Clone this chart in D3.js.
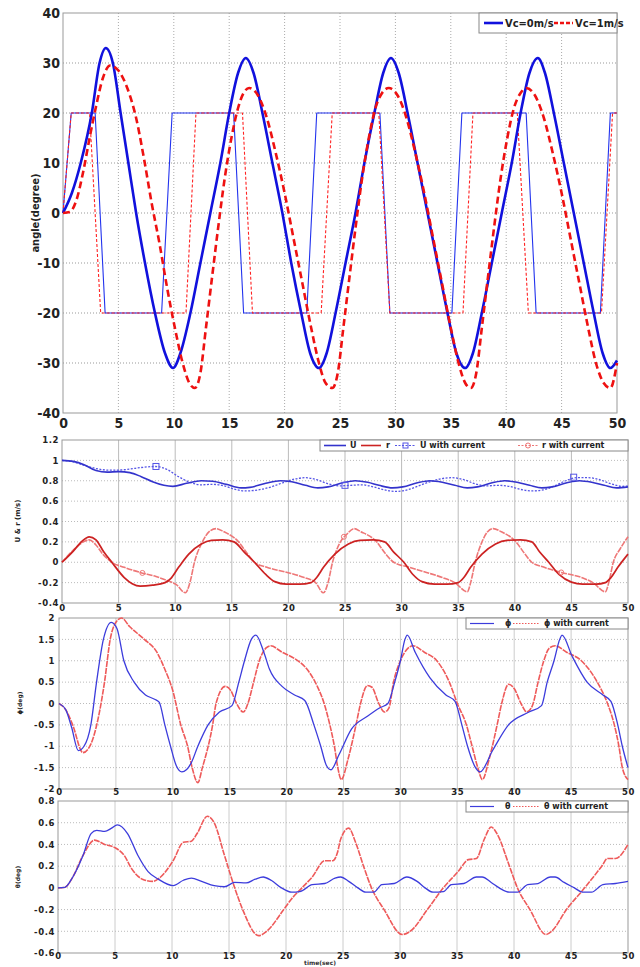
<!DOCTYPE html>
<html>
<head>
<meta charset="utf-8">
<script src="https://cdn.jsdelivr.net/npm/d3@7"></script>
<style>
body { margin: 0; background: #fff; }
svg { display: block; }
</style>
</head>
<body>
<div id="chart"></div>
<script>
// ---------- data ----------
const xTicks = [0, 5, 10, 15, 20, 25, 30, 35, 40, 45, 50]

// panel 1 : heading angle (deg) and rudder
const angleTicks = [40, 30, 20, 10, 0, -10, -20, -30, -40]
const headingVc0 = [[0,0],[0.8,4],[1.6,10],[2.6,20],[3.3,30],[3.86,33],[4.5,30],[5.2,20],[5.9,10],[6.6,0],[7.4,-10],[8.3,-20],[9.2,-28],[9.93,-31],[10.6,-28],[11.5,-20],[12.4,-10],[13.3,0],[14.2,10],[15.0,20],[15.8,28],[16.5,31],[17.2,28],[18.0,20],[18.9,10],[19.8,0],[20.6,-10],[21.5,-20],[22.3,-28],[23.1,-31],[23.8,-28],[24.6,-20],[25.5,-10],[26.4,0],[27.2,10],[28.1,20],[28.9,28],[29.6,31],[30.3,28],[31.1,20],[32.0,10],[32.9,0],[33.8,-10],[34.7,-20],[35.5,-28],[36.3,-31],[37.0,-28],[37.8,-20],[38.7,-10],[39.6,0],[40.5,10],[41.3,20],[42.1,28],[42.85,31],[43.5,28],[44.3,20],[45.2,10],[46.1,0],[47.0,-10],[47.9,-20],[48.7,-28],[49.4,-31],[50,-29.5]]
const headingVc1 = [[0,0],[0.6,0.2],[1.2,2.5],[1.8,8],[2.4,15],[3.0,21.5],[3.6,27],[4.26,29.5],[5.0,28.5],[5.8,25],[6.6,19],[7.3,11],[8.0,2],[8.7,-6],[9.4,-15],[10.1,-23],[10.8,-30],[11.4,-34],[11.9,-35],[12.4,-32],[12.9,-23],[13.5,-12],[14.0,-3],[14.6,7],[15.2,15],[15.8,21],[16.3,24],[16.8,25],[17.6,23.5],[18.4,19],[19.2,12],[20.0,4],[20.8,-5],[21.6,-14],[22.4,-23],[23.1,-30],[23.7,-34],[24.3,-35],[24.8,-32],[25.3,-23],[25.9,-12],[26.4,-3],[27.0,7],[27.6,15],[28.2,21],[28.8,24],[29.4,25],[30.2,23.5],[31.0,19],[31.8,12],[32.6,4],[33.4,-5],[34.2,-14],[35.0,-23],[35.7,-30],[36.3,-34],[36.8,-35],[37.3,-32],[37.8,-23],[38.4,-12],[38.9,-3],[39.5,7],[40.1,15],[40.7,21],[41.3,24],[41.8,25],[42.6,23.5],[43.4,19],[44.2,12],[45.0,4],[45.8,-5],[46.6,-14],[47.4,-23],[48.1,-30],[48.8,-34],[49.4,-35],[50,-30]]
const rudderVc0 = [[0,0],[0.74,20],[2.9,20],[3.8,-20],[8.9,-20],[9.85,20],[15.4,20],[16.3,-20],[22.0,-20],[22.9,20],[28.6,20],[29.5,-20],[35.1,-20],[36.0,20],[41.8,20],[42.7,-20],[48.5,-20],[49.4,20],[50,20]]
const rudderVc1 = [[0,0],[0.74,20],[2.4,20],[3.4,-20],[11.1,-20],[12.0,20],[16.2,20],[17.1,-20],[23.3,-20],[24.3,20],[28.5,20],[29.5,-20],[36.1,-20],[37.0,20],[41.0,20],[42.0,-20],[48.6,-20],[49.6,20],[50,20]]

// panel 2 : surge speed U and yaw rate r
const speedTicks = [1.2, 1, 0.8, 0.6, 0.4, 0.2, 0, -0.2, -0.4]
const speedU = [[0,1],[1,0.99],[2,0.955],[3,0.9],[4,0.885],[5,0.89],[6,0.88],[7,0.84],[8,0.79],[9,0.755],[9.8,0.745],[11,0.775],[12.3,0.8],[13.3,0.795],[14.5,0.765],[15.8,0.73],[16.6,0.735],[18,0.775],[19.3,0.8],[20.3,0.79],[21.5,0.755],[22.6,0.73],[23.5,0.74],[24.8,0.78],[25.9,0.8],[27,0.785],[28,0.755],[29.2,0.73],[30.1,0.74],[31.4,0.78],[32.5,0.8],[33.6,0.785],[34.7,0.755],[35.8,0.73],[36.7,0.74],[38,0.78],[39.1,0.8],[40.2,0.785],[41.3,0.755],[42.4,0.73],[43.3,0.74],[44.6,0.78],[45.7,0.8],[46.8,0.785],[47.9,0.755],[49,0.73],[50,0.74]]
const speedUCur = [[0,1],[1,0.985],[2,0.95],[3,0.92],[4,0.905],[5,0.905],[6,0.915],[7,0.93],[8.3,0.94],[9.3,0.91],[10.3,0.84],[11.3,0.785],[12.3,0.76],[13.3,0.765],[14.3,0.75],[15.3,0.715],[16.3,0.7],[17.3,0.71],[18.5,0.74],[19.5,0.78],[20.5,0.815],[21.5,0.83],[22.5,0.81],[23.5,0.77],[24.5,0.75],[25.5,0.755],[26.5,0.76],[27.5,0.74],[28.5,0.71],[29.5,0.695],[30.5,0.71],[31.5,0.75],[32.5,0.79],[33.5,0.82],[34.5,0.83],[35.5,0.81],[36.5,0.77],[37.5,0.75],[38.5,0.755],[39.5,0.745],[40.5,0.715],[41.5,0.7],[42.5,0.71],[43.5,0.75],[44.5,0.8],[45.5,0.83],[46.5,0.83],[47.5,0.81],[48.5,0.77],[49.5,0.745],[50,0.75]]
const speedUCurMarks = [[8.3,0.94],[25,0.755],[45.2,0.835]]
const yawR = [[0,0],[1,0.11],[1.8,0.21],[2.4,0.25],[3,0.22],[3.7,0.1],[4.4,0],[5.5,-0.15],[6.2,-0.21],[6.9,-0.235],[8,-0.225],[9.1,-0.2],[9.6,-0.16],[10.3,-0.05],[11.2,0.08],[12.3,0.18],[13.2,0.215],[14.2,0.22],[15.2,0.2],[16.1,0.1],[17,0],[18,-0.12],[18.8,-0.19],[19.8,-0.215],[21,-0.215],[22,-0.2],[22.5,-0.15],[23.1,-0.05],[24.1,0.08],[25.3,0.18],[26.3,0.215],[27.5,0.22],[28.5,0.2],[29.3,0.1],[30.2,0],[31,-0.12],[31.8,-0.19],[32.9,-0.215],[34,-0.215],[35,-0.2],[35.5,-0.15],[36.1,-0.05],[37.1,0.08],[38.3,0.18],[39.3,0.215],[40.5,0.22],[41.5,0.2],[42.2,0.1],[43,0],[43.9,-0.12],[45,-0.195],[46,-0.215],[47.2,-0.215],[48,-0.2],[48.5,-0.15],[49.1,-0.05],[50,0.08]]
const yawRCur = [[0,0],[1,0.12],[1.9,0.2],[2.4,0.22],[3,0.17],[3.6,0.08],[4.4,0],[5.5,-0.05],[6.9,-0.1],[8.3,-0.14],[9.3,-0.18],[10.1,-0.22],[10.9,-0.3],[11.3,-0.2],[11.7,0],[12.4,0.2],[13,0.3],[13.6,0.33],[14.3,0.3],[15.6,0.2],[16.4,0.08],[17,0],[18.1,-0.05],[19.9,-0.1],[21.4,-0.15],[22.4,-0.2],[23.1,-0.3],[23.5,-0.2],[23.9,0],[24.5,0.18],[25.2,0.28],[25.8,0.33],[26.4,0.3],[27.8,0.2],[28.6,0.08],[29.3,0],[30.7,-0.05],[32.2,-0.1],[33.6,-0.15],[34.7,-0.2],[35.8,-0.29],[36.1,-0.2],[36.5,0],[37.1,0.2],[37.6,0.3],[38.1,0.33],[38.8,0.3],[40.1,0.2],[40.9,0.08],[41.5,0],[42.6,-0.05],[44.1,-0.1],[45.9,-0.15],[46.9,-0.2],[48,-0.29],[48.3,-0.2],[48.7,0],[49.3,0.13],[50,0.25]]
const yawRCurMarks = [[7.1,-0.105],[24.9,0.25],[44.1,-0.1]]

// panel 3 : roll
const rollTicks = [2, 1.5, 1, 0.5, 0, -0.5, -1, -1.5, -2]
const roll = [[0,0],[0.6,-0.15],[1.1,-0.55],[1.7,-1.1],[2.2,-1.0],[2.8,-0.5],[3.3,0.5],[3.9,1.5],[4.6,1.9],[5.1,1.75],[5.7,1.0],[6.6,0.5],[7.6,0.2],[8.4,0.1],[8.8,0.03],[9.3,-0.5],[9.8,-1.0],[10.3,-1.45],[10.8,-1.6],[11.6,-1.4],[12.2,-1.0],[13.1,-0.5],[14.1,-0.2],[15.2,-0.05],[15.8,0.5],[16.3,1.0],[16.9,1.5],[17.3,1.6],[18,1.2],[18.5,0.8],[19.6,0.4],[20.7,0.2],[21.6,0.07],[22.4,-0.5],[23,-1.0],[23.5,-1.45],[23.9,-1.55],[24.6,-1.2],[25.7,-0.6],[27.1,-0.3],[28.2,-0.1],[28.9,0],[29.5,0.5],[30,1.0],[30.4,1.5],[30.6,1.6],[31.3,1.2],[32.6,0.6],[34,0.2],[34.8,0.05],[35.4,-0.5],[35.9,-1.0],[36.6,-1.5],[37,-1.6],[38.1,-1.1],[39.5,-0.5],[41.3,-0.2],[42.4,-0.05],[42.9,0.5],[43.5,1.0],[44,1.5],[44.2,1.6],[45.1,1.1],[46.4,0.5],[47.8,0.2],[48.5,0.05],[49.1,-0.5],[49.5,-1.0],[50,-1.5]]
const rollCur = [[0,0],[0.6,-0.15],[1.2,-0.5],[2.1,-1.15],[2.8,-0.95],[3.4,-0.4],[4.0,0.5],[4.5,1.5],[5,1.9],[5.5,2.0],[6.2,1.8],[7.5,1.5],[8.6,1.2],[9.3,0.8],[10,0.3],[10.7,-0.5],[11.3,-1.0],[11.7,-1.5],[12.2,-1.85],[12.6,-1.5],[13.5,-0.5],[13.8,0],[14.6,0.4],[15.1,0.3],[15.6,0],[16.2,-0.2],[16.6,0],[17.1,0.5],[17.6,1.0],[18.2,1.3],[18.6,1.35],[19.6,1.2],[20.7,1.05],[21.8,0.8],[22.7,0.4],[23.3,0],[23.8,-0.5],[24.2,-1.0],[24.5,-1.5],[24.8,-1.78],[25.4,-1.3],[26.1,-0.5],[26.5,0],[27.1,0.42],[27.5,0.38],[28.1,0],[28.6,-0.2],[29,-0.1],[29.4,0.5],[30,1.0],[30.7,1.3],[31.1,1.35],[32.1,1.2],[33.2,1.0],[34.3,0.5],[35,0],[35.8,-0.5],[36.3,-1.0],[36.8,-1.5],[37.2,-1.78],[37.8,-1.3],[38.5,-0.5],[38.9,0],[39.5,0.45],[40,0.35],[40.6,0],[41.1,-0.2],[41.6,-0.05],[42.1,0.5],[42.6,1.0],[43.1,1.3],[43.6,1.35],[44.6,1.2],[45.9,1.0],[47.3,0.5],[48.2,0],[48.8,-0.5],[49.2,-1.0],[49.5,-1.5],[50,-1.78]]

// panel 4 : pitch
const pitchTicks = [0.8, 0.6, 0.4, 0.2, 0, -0.2, -0.4, -0.6]
const pitch = [[0,0],[0.6,0.005],[1.3,0.1],[2.2,0.3],[2.9,0.5],[3.4,0.53],[4.1,0.52],[4.7,0.55],[5.2,0.58],[6.1,0.5],[7,0.3],[7.9,0.15],[8.8,0.08],[10.1,0.02],[11,0.07],[11.7,0.09],[12.6,0.06],[13.7,0.02],[14.6,0.01],[15.5,0.05],[16.5,0.045],[17.3,0.08],[18,0.1],[18.7,0.07],[19.6,0],[20.5,-0.04],[21.2,-0.035],[22.3,0.03],[23.4,0.04],[24.3,0.09],[24.8,0.1],[25.5,0.06],[26.3,0],[27,-0.04],[27.7,-0.04],[28.4,0.03],[29.5,0.04],[30.6,0.1],[31.5,0.06],[32.2,0],[32.9,-0.04],[33.8,-0.035],[34.5,0.03],[35.6,0.04],[36.7,0.1],[37.2,0.1],[38,0.05],[38.7,0],[39.6,-0.04],[40.3,-0.04],[41.2,0.03],[42.1,0.04],[43.2,0.1],[43.6,0.1],[44.4,0.05],[45.3,0],[46,-0.04],[46.8,-0.04],[47.8,0.03],[48.9,0.04],[50,0.06]]
const pitchCur = [[0,0],[0.6,0.005],[1.3,0.1],[2.2,0.3],[3.2,0.44],[4.1,0.4],[5,0.37],[5.8,0.3],[6.5,0.17],[7.4,0.08],[8.3,0.06],[9,0.1],[10.1,0.25],[11,0.42],[11.7,0.43],[12.2,0.5],[13.1,0.66],[13.7,0.6],[14.6,0.3],[15.5,0],[16.2,-0.2],[17.6,-0.44],[18.3,-0.4],[19.8,-0.2],[20.5,-0.1],[21.4,0],[22.3,0.1],[23.4,0.25],[24.1,0.25],[24.5,0.32],[24.8,0.45],[25.5,0.55],[26.1,0.42],[26.8,0.2],[27.5,0],[28.6,-0.2],[30.2,-0.43],[30.9,-0.4],[32.4,-0.2],[33.8,0],[35.1,0.15],[36,0.26],[36.7,0.27],[37.4,0.45],[38,0.56],[38.5,0.5],[39.6,0.2],[40.3,0],[41.4,-0.2],[42.8,-0.43],[43.3,-0.4],[44.6,-0.2],[46.2,0],[47.7,0.2],[48.2,0.27],[48.9,0.27],[50,0.4]]

// ---------- drawing ----------
const width = 640, height = 967
const svg = d3.select("#chart").append("svg")
  .attr("width", width).attr("height", height)

const narrow = "'Liberation Sans Narrow','DejaVu Sans Condensed',sans-serif"
const wide = "'DejaVu Sans',sans-serif"

function panel(box, yDomain, yTicks, opt) {
  const x = d3.scaleLinear().domain([0, 50]).range([box.l, box.r])
  const y = d3.scaleLinear().domain(yDomain).range([box.b, box.t])
  const g = svg.append("g")

  // grid
  g.append("g").selectAll("line").data(xTicks.slice(1, -1)).join("line")
    .attr("x1", d => x(d)).attr("x2", d => x(d))
    .attr("y1", box.t).attr("y2", box.b)
    .attr("stroke", opt.vGrid).attr("stroke-width", 1)
    .attr("stroke-dasharray", opt.vDash)
  g.append("g").selectAll("line").data(yTicks.filter(d => d != yDomain[0] && d != yDomain[1])).join("line")
    .attr("x1", box.l).attr("x2", box.r)
    .attr("y1", d => y(d)).attr("y2", d => y(d))
    .attr("stroke", opt.hGrid).attr("stroke-width", 1)
    .attr("stroke-dasharray", "1,2")

  g.append("rect")
    .attr("x", box.l).attr("y", box.t)
    .attr("width", box.r - box.l).attr("height", box.b - box.t)
    .attr("fill", "none").attr("stroke", "#999").attr("stroke-width", 1)

  const xa = g.append("g")
    .attr("transform", "translate(0," + box.b + ")")
    .call(d3.axisBottom(x).tickValues(xTicks).tickSize(0).tickPadding(opt.xPad).tickFormat(d3.format("d")))
  const ya = g.append("g")
    .attr("transform", "translate(" + box.l + ",0)")
    .call(d3.axisLeft(y).tickValues(yTicks).tickSize(0).tickPadding(opt.yPad).tickFormat(d => String(+d.toFixed(2))))
  ;[xa, ya].forEach(a => {
    a.select(".domain").remove()
    a.selectAll("text")
      .attr("font-family", opt.font).attr("font-weight", "bold")
      .attr("font-size", opt.fontSize).attr("fill", "#222")
      .attr("letter-spacing", opt.spacing || 0)
  })
  return { x, y, g }
}

function curve(p, data, color, w, dash, shape) {
  const line = d3.line().x(d => p.x(d[0])).y(d => p.y(d[1]))
    .curve(shape || d3.curveMonotoneX)
  p.g.append("path").datum(data)
    .attr("d", line)
    .attr("fill", "none").attr("stroke", color)
    .attr("stroke-width", w).attr("stroke-dasharray", dash || null)
    .attr("stroke-linejoin", "round")
}

function ylabel(text, x, y, size, font) {
  svg.append("text").attr("transform", "translate(" + x + "," + y + ") rotate(-90)")
    .attr("text-anchor", "middle").attr("dominant-baseline", "middle")
    .attr("font-family", font).attr("font-weight", "bold").attr("font-size", size)
    .attr("fill", "#222").text(text)
}

function legend(box, y0, y1, items, size, font) {
  svg.append("rect").attr("x", box.x0).attr("y", y0)
    .attr("width", box.x1 - box.x0).attr("height", y1 - y0)
    .attr("fill", "#fff").attr("stroke", "#888").attr("stroke-width", 1)
  const cy = (y0 + y1) / 2
  items.forEach(it => {
    svg.append("line").attr("x1", it.l0).attr("x2", it.l1)
      .attr("y1", cy).attr("y2", cy)
      .attr("stroke", it.color).attr("stroke-width", it.w)
      .attr("stroke-dasharray", it.dash || null)
    if (it.mark == "square") {
      svg.append("rect").attr("x", (it.l0 + it.l1) / 2 - 2.5).attr("y", cy - 2.5)
        .attr("width", 5).attr("height", 5).attr("fill", "none").attr("stroke", it.color)
    }
    if (it.mark == "circle") {
      svg.append("circle").attr("cx", (it.l0 + it.l1) / 2).attr("cy", cy).attr("r", 2.5)
        .attr("fill", "none").attr("stroke", it.color)
    }
    svg.append("text").attr("x", it.tx).attr("y", cy)
      .attr("dominant-baseline", "central")
      .attr("font-family", font).attr("font-weight", "bold").attr("font-size", size)
      .attr("fill", "#222").text(it.text)
  })
}

// ---- panel 1
const p1 = panel({ l: 63, r: 617, t: 13, b: 413 }, [-40, 40], angleTicks,
  { vGrid: "#aaa", vDash: "1,2", hGrid: "#999", font: narrow, fontSize: 14, xPad: 5, yPad: 3 })
curve(p1, rudderVc0, "#2233ee", 1.1, null, d3.curveLinear)
curve(p1, rudderVc1, "#ff2222", 1.1, "3,2", d3.curveLinear)
curve(p1, headingVc0, "#1111dd", 2.6)
curve(p1, headingVc1, "#ee1111", 2.6, "7,4")
ylabel("angle(degree)", 36, 213, 11, narrow)
legend({ x0: 479, x1: 617 }, 13, 33, [
  { l0: 484, l1: 503, tx: 505, text: "Vc=0m/s", color: "#1111dd", w: 2.6 },
  { l0: 554, l1: 573, tx: 575, text: "Vc=1m/s", color: "#ee1111", w: 2.6, dash: "4,2" }
], 11, narrow)

// ---- panel 2
const p2 = panel({ l: 62, r: 628, t: 440, b: 603 }, [-0.4, 1.2], speedTicks,
  { vGrid: "#bbb", vDash: null, hGrid: "#bbb", font: wide, fontSize: 8.5, xPad: 2, yPad: 3, spacing: 0.6 })
curve(p2, speedUCur, "#5555e6", 1.3, "2,1.5")
curve(p2, speedU, "#3333cc", 1.6)
curve(p2, yawRCur, "#ee7777", 1.6, "6,1")
curve(p2, yawR, "#cc2222", 1.7)
p2.g.selectAll(".sq").data(speedUCurMarks).join("rect")
  .attr("x", d => p2.x(d[0]) - 3).attr("y", d => p2.y(d[1]) - 3)
  .attr("width", 6).attr("height", 6).attr("fill", "none").attr("stroke", "#5555e6")
p2.g.selectAll(".ci").data(yawRCurMarks).join("circle")
  .attr("cx", d => p2.x(d[0])).attr("cy", d => p2.y(d[1])).attr("r", 2.5)
  .attr("fill", "none").attr("stroke", "#ee7777")
ylabel("U & r (m/s)", 18, 521, 7, wide)
legend({ x0: 320, x1: 628 }, 440, 451, [
  { l0: 324, l1: 346, tx: 350, text: "U", color: "#3333cc", w: 1.6 },
  { l0: 361, l1: 381, tx: 386, text: "r", color: "#cc2222", w: 1.6 },
  { l0: 395, l1: 416, tx: 420, text: "U with current", color: "#5555e6", w: 1.2, dash: "2,1.5", mark: "square" },
  { l0: 518, l1: 538, tx: 542, text: "r with current", color: "#ee7777", w: 1.2, dash: "2,1.5", mark: "circle" }
], 8, wide)

// ---- panel 3
const p3 = panel({ l: 59, r: 628, t: 618, b: 789 }, [-2, 2], rollTicks,
  { vGrid: "#ccc", vDash: null, hGrid: "#bbb", font: wide, fontSize: 8.5, xPad: 0, yPad: 4, spacing: 0.6 })
curve(p3, rollCur, "#ee5a5a", 1.6, "6,1")
curve(p3, roll, "#3c3cdc", 1.3)
ylabel("\u03d5(deg)", 20, 703, 6, wide)
legend({ x0: 466, x1: 628 }, 618, 629, [
  { l0: 470, l1: 494, tx: 505, text: "\u03d5", color: "#3c3cdc", w: 1.2 },
  { l0: 513, l1: 540, tx: 544, text: "\u03d5 with current", color: "#ee5a5a", w: 1.2, dash: "1.5,1.5" }
], 8, wide)

// ---- panel 4
const p4 = panel({ l: 58, r: 628, t: 801, b: 953 }, [-0.6, 0.8], pitchTicks,
  { vGrid: "#ccc", vDash: null, hGrid: "#bbb", font: wide, fontSize: 8.5, xPad: 0, yPad: 3, spacing: 0.6 })
curve(p4, pitchCur, "#ee5a5a", 1.6, "6,1")
curve(p4, pitch, "#3c3cdc", 1.3)
ylabel("\u03b8(deg)", 18, 877, 6, wide)
legend({ x0: 466, x1: 628 }, 801, 812, [
  { l0: 470, l1: 494, tx: 505, text: "\u03b8", color: "#3c3cdc", w: 1.2 },
  { l0: 513, l1: 540, tx: 544, text: "\u03b8 with current", color: "#ee5a5a", w: 1.2, dash: "1.5,1.5" }
], 8, wide)

svg.append("text").attr("x", 320).attr("y", 963)
  .attr("text-anchor", "middle").attr("dominant-baseline", "middle")
  .attr("font-family", wide).attr("font-weight", "bold").attr("font-size", 6)
  .attr("fill", "#333").text("time(sec)")
</script>
</body>
</html>
